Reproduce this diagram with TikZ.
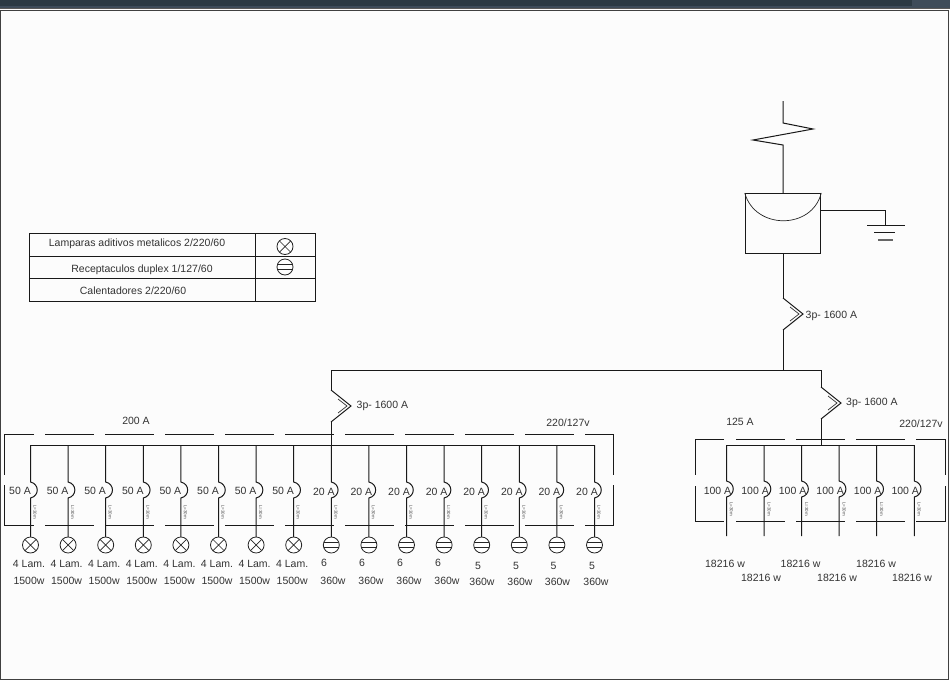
\documentclass[tikz,border=0pt]{standalone}
\usepackage{fontspec}
\setmainfont{Liberation Sans}
\definecolor{barra}{RGB}{44,58,68}
\definecolor{barrab}{RGB}{62,76,90}
\tikzset{
 linea/.style={line width=1pt,color=black!90},
 txt/.style={inner sep=0pt,text=black!80,font=\fontsize{10.5}{12}\selectfont},
 largo/.style={inner sep=0pt,text=black!70,font=\fontsize{4.5}{5}\selectfont,rotate=-90},
 lampara/.style={circle,draw=black!85,line width=0.8pt,fill=white,minimum size=16pt,inner sep=0pt,
   path picture={\draw[line width=0.7pt] (path picture bounding box.north west)--(path picture bounding box.south east)
   (path picture bounding box.north east)--(path picture bounding box.south west);}},
 toma/.style={circle,draw=black!85,line width=0.8pt,fill=white,minimum size=16pt,inner sep=0pt,
   path picture={\draw[line width=0.8pt] ([yshift=2.5pt]path picture bounding box.west)--([yshift=2.5pt]path picture bounding box.east)
   ([yshift=-2.5pt]path picture bounding box.west)--([yshift=-2.5pt]path picture bounding box.east);}}
}
\newcommand{\quiebre}[3]{% x, top y, name
 \coordinate (#3a) at (#1,#2);
 \coordinate (#3b) at (#1+20,#2+16);
 \coordinate (#3c) at (#1,#2+32);
 \draw[linea] (#3a)--(#3b)--(#3c);
 \coordinate (#3d) at (#1+16,#2+16);
 \draw[line width=0.7pt,black!80] (#1+7,#2+9)--(#3d)--(#1+7,#2+23);
}
\begin{document}
\begin{tikzpicture}[x=1pt,y=-1pt]
\useasboundingbox (0,0) rectangle (950,680);
\fill[white!99!black] (0,9) rectangle (950,680);
\fill[barra] (0,0) rectangle (912,6);
\fill[barrab] (912,0) rectangle (950,6);
\fill[barrab] (0,6) rectangle (950,8);
\fill[gray!70!black] (0,8) rectangle (950,9);
\draw[line width=1pt,black!75] (0.5,10)--(948.8,10)--(948.8,679.5)--(0.5,679.5)--cycle;

% acometida
\coordinate (ent) at (783,101);
\coordinate (med) at (783,193);
\draw[linea] (ent)--(783,123)--(813,129)--(753,140)--(783,145)--(med);
\node[draw=black!90,line width=1pt,minimum width=75.5pt,minimum height=60pt,inner sep=0pt,anchor=north] (medidor) at (med) {};
\draw[line width=0.7pt,black!85] (medidor.north west) .. controls (755,230) and (812,230) .. (medidor.north east);
\coordinate (tierra) at (885,225);
\draw[linea] (821,210)--(885,210)--(tierra);
\draw[linea] (867,225)--(905,225) (874,232)--(895,232);
\draw[line width=1.1pt,black!60] (878,240)--(893,240);

% principal
\quiebre{783}{298}{qm}
\draw[linea] (medidor.south)--(qma) (qmc)--(783,370);
\node[txt,anchor=west] (qmt) at (805.5,315.5) {3p- 1600 A};
\coordinate (bizq) at (331,370);
\coordinate (bder) at (821,370);
\draw[linea] (bizq)--(bder);
\quiebre{331}{390}{qi}
\draw[linea] (bizq)--(qia) (qic)--(331,445);
\node[txt,anchor=west] (qit) at (356.5,405.5) {3p- 1600 A};
\quiebre{821}{387}{qd}
\draw[linea] (bder)--(qda) (qdc)--(821,445);
\node[txt,anchor=west] (qdt) at (846,402.5) {3p- 1600 A};

% tablero izquierdo
\draw[linea] (34,434)--(4,434)--(4,475) (4,485)--(4,525)--(34,525);
\draw[linea] (585,434)--(613.5,434)--(613.5,475) (613.5,485)--(613.5,525)--(585,525);
\foreach \a in {45,105,...,525} {
 \draw[linea] (\a,434)--(\a+48.5,434) (\a,525)--(\a+48.5,525);
}
\draw[linea] (30.5,445)--(594.5,445);
\foreach \i in {0,...,15} {
 \pgfmathsetmacro{\xx}{30.5+37.6*\i}
 \coordinate (a\i) at (\xx,445);
 \coordinate (b\i) at (\xx,482);
 \coordinate (c\i) at (\xx,498);
 \coordinate (d\i) at (\xx,537);
 \draw[linea] (a\i)--(b\i) .. controls (\xx+9,484) and (\xx+9,496) .. (c\i)--(d\i);
 \node[largo] (l\i) at (\xx+4.5,512) {L=30m};
}
\foreach \i in {0,...,7} {
 \pgfmathsetmacro{\xx}{30.5+37.6*\i}
 \node[lampara] (s\i) at (\xx,545) {};
 \node[txt] (v\i) at (\xx-10.5,490.5) {50 A};
 \node[txt] (n\i) at (\xx-1.5,563.5) {4 Lam.};
 \node[txt] (w\i) at (\xx-1.5,581) {1500w};
}
\foreach \i in {8,...,15} {
 \pgfmathsetmacro{\xx}{30.5+37.6*\i}
 \node[toma] (s\i) at (\xx,545) {};
 \node[txt] (v\i) at (\xx-7.5,491.5) {20 A};
}
\foreach \i/\x in {8/324,9/362,10/400,11/438} {
 \node[txt] (n\i) at (\x,563) {6};
 \node[txt] (w\i) at (\x+9,580.5) {360w};
}
\foreach \i/\x in {12/478,13/516,14/553.5,15/592} {
 \node[txt] (n\i) at (\x,566) {5};
 \node[txt] (w\i) at (\x+4,582) {360w};
}
\node[txt] (ampi) at (136,421) {200 A};
\node[txt] (voli) at (568,423) {220/127v};

% tablero derecho
\draw[linea] (724,439)--(695,439)--(695,475) (695,486)--(695,521)--(724,521);
\draw[linea] (916,439)--(945.5,439)--(945.5,475) (945.5,486)--(945.5,521)--(916,521);
\foreach \a in {736,796,856} {
 \draw[linea] (\a,439)--(\a+48.5,439) (\a,521)--(\a+48.5,521);
}
\draw[linea] (726.5,445)--(914,445);
\foreach \i in {0,...,5} {
 \pgfmathsetmacro{\xx}{726.5+37.55*\i}
 \coordinate (e\i) at (\xx,445);
 \coordinate (f\i) at (\xx,481);
 \coordinate (g\i) at (\xx,497);
 \coordinate (h\i) at (\xx,536);
 \draw[linea] (e\i)--(f\i) .. controls (\xx+9,483) and (\xx+9,495) .. (g\i)--(h\i);
 \node[largo] (m\i) at (\xx+5,509) {L=30m};
 \node[txt] (u\i) at (\xx-9,491) {100 A};
}
\foreach \i/\x in {0/725,1/800.5,2/876} {
 \node[txt] (p\i) at (\x,563.5) {18216 w};
}
\foreach \i/\x in {3/761,4/837,5/912} {
 \node[txt] (p\i) at (\x,578) {18216 w};
}
\node[txt] (ampd) at (740,422) {125 A};
\node[txt] (vold) at (921,424) {220/127v};

% cuadro
\draw[linea] (29.5,233) rectangle (315.5,301);
\draw[linea] (29.5,256)--(315.5,256) (29.5,278)--(315.5,278) (255,233)--(255,301);
\node[txt] (c1) at (137,244) {Lamparas aditivos metalicos 2/220/60};
\node[txt] (c2) at (142,269.5) {Receptaculos duplex 1/127/60};
\node[txt] (c3) at (133,291) {Calentadores 2/220/60};
\node[lampara] (k1) at (285,246.5) {};
\node[toma] (k2) at (285,267) {};
\end{tikzpicture}
\end{document}
